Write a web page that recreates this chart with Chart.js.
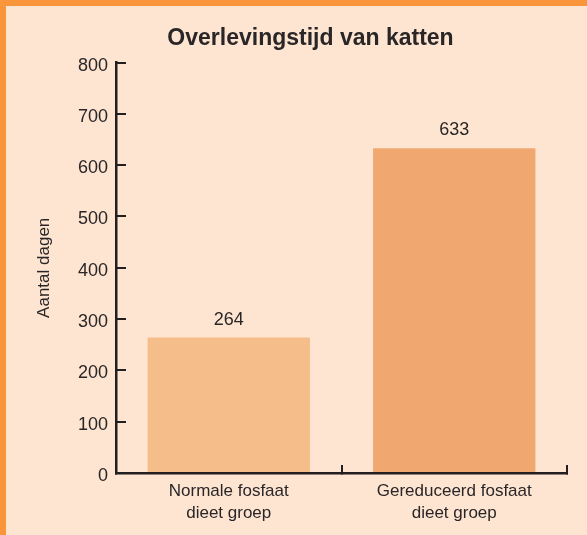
<!DOCTYPE html>
<html>
<head>
<meta charset="utf-8">
<script src="https://cdn.jsdelivr.net/npm/chart.js@4"></script>
<style>
  html, body { margin: 0; padding: 0; overflow: hidden; }
  body { width: 587px; height: 535px; background: #F9963C; position: relative; }
  #wrap { position: absolute; left: 6px; top: 6px; width: 581px; height: 529px; background: #FDE5D1; }
  canvas { display: block; }
</style>
</head>
<body>
<div id="wrap"><canvas id="c" width="581" height="529"></canvas></div>
<script>
const titleText = 'Overlevingstijd van katten';
const yTitle = 'Aantal dagen';
const categories = [['Normale fosfaat', 'dieet groep'], ['Gereduceerd fosfaat', 'dieet groep']];
const values = [264, 633];
const barColors = ['#F5BD89', '#F0A870'];
const yMin = 0;
const yMax = 800;
const yStep = 100;

const axisColor = '#231F20';
const textColor = '#2A2627';
const fontFamily = '"Liberation Sans", Arial, sans-serif';

const valueLabels = {
  id: 'valueLabels',
  afterDatasetsDraw(chart) {
    const ctx = chart.ctx;
    const meta = chart.getDatasetMeta(0);
    ctx.save();
    ctx.font = '18px ' + fontFamily;
    ctx.fillStyle = textColor;
    ctx.textAlign = 'center';
    ctx.textBaseline = 'middle';
    meta.data.forEach((bar, i) => {
      ctx.fillText(String(values[i]), bar.x, bar.y - 18);
    });
    ctx.restore();
  }
};

new Chart(document.getElementById('c'), {
  type: 'bar',
  data: {
    labels: categories,
    datasets: [{
      data: values,
      backgroundColor: barColors,
      borderWidth: 0,
      barPercentage: 0.72,
      categoryPercentage: 1.0
    }]
  },
  options: {
    responsive: false,
    animation: false,
    layout: { padding: { left: 28, right: 0, top: 0, bottom: 0 } },
    plugins: {
      legend: { display: false },
      tooltip: { enabled: false },
      title: {
        display: true,
        text: titleText,
        color: textColor,
        font: { family: fontFamily, size: 23, weight: 'bold' },
        padding: { top: 19, bottom: 10 }
      }
    },
    scales: {
      x: {
        grid: {
          display: true,
          drawOnChartArea: false,
          drawTicks: true,
          tickLength: -8,
          color: axisColor,
          lineWidth: 2,
          offset: true
        },
        border: { display: true, color: axisColor, width: 2.5 },
        ticks: {
          color: textColor,
          font: { family: fontFamily, size: 17, lineHeight: 1.25 },
          padding: 16,
          maxRotation: 0,
          autoSkip: false
        },
        afterFit(scale) { scale.height = 62; }
      },
      y: {
        min: yMin,
        max: yMax,
        grid: {
          display: true,
          drawOnChartArea: false,
          drawTicks: true,
          tickLength: -10,
          color: axisColor,
          lineWidth: 2
        },
        border: { display: true, color: axisColor, width: 2.5 },
        ticks: {
          stepSize: yStep,
          color: textColor,
          font: { family: fontFamily, size: 18 },
          padding: 18,
          labelOffset: 3
        },
        title: {
          display: true,
          text: yTitle,
          color: textColor,
          font: { family: fontFamily, size: 17 },
          padding: { top: 0, bottom: 0 }
        },
        afterFit(scale) { scale.width = 82; }
      },
      yRight: {
        type: 'linear',
        position: 'right',
        display: true,
        grid: { display: false, drawTicks: false },
        border: { display: false },
        ticks: { display: false },
        afterFit(scale) { scale.width = 20; }
      }
    }
  },
  plugins: [valueLabels]
});
</script>
</body>
</html>
